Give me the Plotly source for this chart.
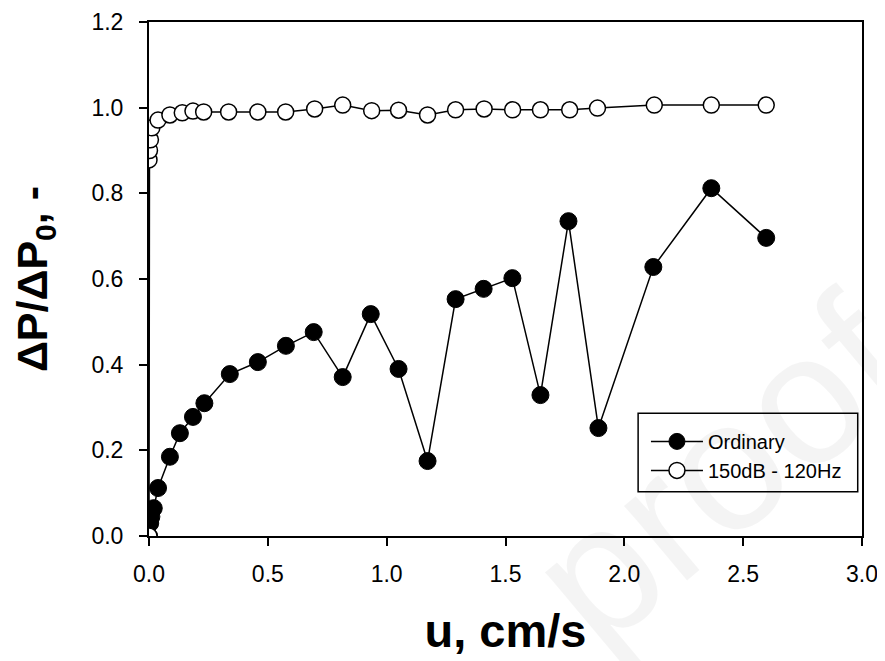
import plotly.graph_objects as go

# Ordinary (filled circles)
u_ord = [0.0, 0.005, 0.01, 0.02, 0.038, 0.088, 0.13, 0.185, 0.233, 0.34, 0.458, 0.576,
         0.693, 0.815, 0.933, 1.05, 1.172, 1.29, 1.408, 1.529, 1.647, 1.765, 1.891,
         2.122, 2.366, 2.597]
dp_ord = [0.0, 0.03, 0.045, 0.065, 0.112, 0.185, 0.24, 0.278, 0.31, 0.378, 0.406, 0.444,
          0.476, 0.371, 0.518, 0.39, 0.175, 0.553, 0.577, 0.602, 0.329, 0.735, 0.252,
          0.628, 0.812, 0.696]

# 150dB - 120Hz (open circles)
u_snd = [0.0, 0.0, 0.002, 0.006, 0.012, 0.038, 0.088, 0.14, 0.185, 0.23, 0.335, 0.458,
         0.575, 0.697, 0.815, 0.937, 1.05, 1.172, 1.29, 1.41, 1.53, 1.647, 1.77, 1.887,
         2.126, 2.366, 2.597]
dp_snd = [0.0, 0.878, 0.90, 0.925, 0.953, 0.971, 0.983, 0.988, 0.992, 0.99, 0.99, 0.99,
          0.99, 0.997, 1.006, 0.993, 0.994, 0.983, 0.995, 0.997, 0.995, 0.995, 0.995,
          0.999, 1.006, 1.006, 1.006]

x_ticks = [0.0, 0.5, 1.0, 1.5, 2.0, 2.5, 3.0]
y_ticks = [0.0, 0.2, 0.4, 0.6, 0.8, 1.0, 1.2]

fig = go.Figure()
fig.add_trace(go.Scatter(
    x=u_ord, y=dp_ord, mode="lines+markers", name="Ordinary",
    line=dict(color="black", width=1.5),
    marker=dict(symbol="circle", size=17, color="black", line=dict(color="black", width=1)),
))
fig.add_trace(go.Scatter(
    x=u_snd, y=dp_snd, mode="lines+markers", name="150dB - 120Hz",
    line=dict(color="black", width=1.5),
    marker=dict(symbol="circle", size=16, color="white", line=dict(color="black", width=1.5)),
))

FONT = "Liberation Sans, Arial, sans-serif"
axis_font = dict(family=FONT, size=23, color="black")

# legend frame
fig.add_shape(type="rect", xref="paper", yref="paper",
              x0=0.686, x1=0.994, y0=0.086, y1=0.239,
              line=dict(color="black", width=1.5), fillcolor="white", layer="below")

# faint watermark
fig.add_annotation(text="proof", xref="paper", yref="paper", x=0.80, y=0.128,
                   xanchor="center", yanchor="middle",
                   showarrow=False, textangle=-40,
                   font=dict(family=FONT, size=185, color="rgba(0,0,0,0.045)"))

fig.update_layout(
    width=877, height=653,
    margin=dict(l=141, r=23, t=14, b=125),
    paper_bgcolor="white", plot_bgcolor="rgba(0,0,0,0)",
    showlegend=True,
    legend=dict(
        x=0.697, y=0.222, xanchor="left", yanchor="top",
        bgcolor="rgba(0,0,0,0)", borderwidth=0,
        font=dict(family=FONT, size=20, color="black"),
        itemwidth=52, tracegroupgap=0,
    ),
    xaxis=dict(
        range=[0, 3.0], tickvals=x_ticks, ticktext=[f"{v:.1f}" for v in x_ticks],
        showline=True, linecolor="black", linewidth=2, mirror=True,
        ticks="outside", ticklen=8, tickwidth=1.5, tickcolor="black",
        showgrid=False, zeroline=False, tickfont=axis_font,
        ticklabelstandoff=8, automargin=False,
        title=dict(text="<b>u, cm/s</b>", standoff=29,
                   font=dict(family=FONT, size=47, color="black")),
    ),
    yaxis=dict(
        range=[0, 1.2], tickvals=y_ticks, ticktext=[f"{v:.1f}" for v in y_ticks],
        showline=True, linecolor="black", linewidth=2, mirror=True,
        ticks="outside", ticklen=8, tickwidth=1.5, tickcolor="black",
        showgrid=False, zeroline=False, tickfont=axis_font,
        ticklabelstandoff=11, automargin=False,
        title=dict(text="<b>ΔP/ΔP<sub>0</sub>, -</b>", standoff=30,
                   font=dict(family=FONT, size=43, color="black")),
    ),
)

fig.write_html("out.html")
